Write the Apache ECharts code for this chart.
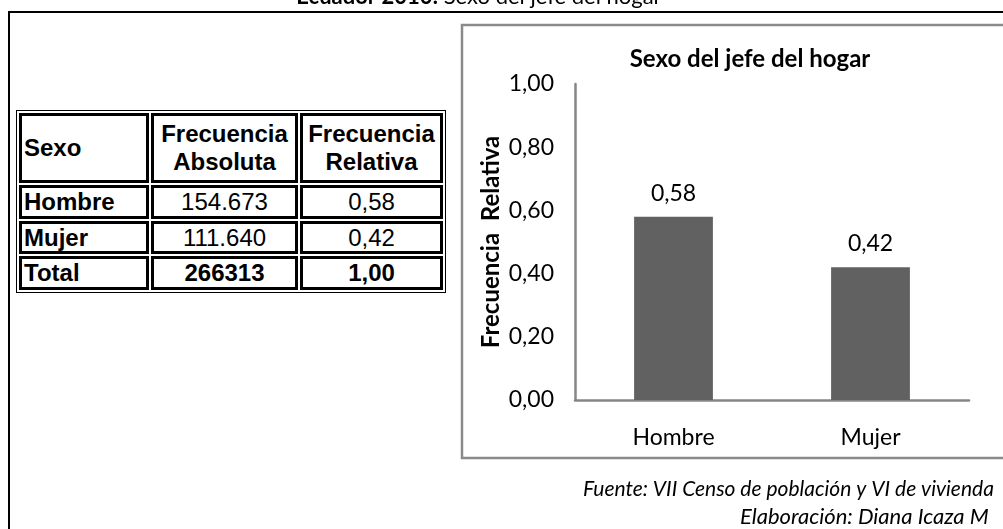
<!DOCTYPE html>
<html>
<head>
<meta charset="utf-8">
<script src="https://cdn.jsdelivr.net/npm/echarts@6/dist/echarts.min.js"></script>
<style>
  html, body { margin: 0; padding: 0; background: #fff; overflow: hidden; }
  #chart-container { position: absolute; left: 0; top: 0; width: 1003px; height: 529px; }
  #tabla {
    position: absolute; left: 16px; top: 110px; z-index: 2;
    border: 1px solid #000; border-spacing: 2px; background: #fff;
    font-family: 'Liberation Sans', Arial, sans-serif; font-size: 24px; color: #000;
  }
  #tabla td { border: 3px solid #000; box-sizing: border-box; padding: 0 2px; line-height: 1.15; }
  #tabla td.num { text-align: center; }
  #tabla td.b { font-weight: bold; }
</style>
</head>
<body>
<div id="chart-container"></div>
<table id="tabla"></table>
<script>
// datos
var categories = ['Hombre', 'Mujer'];
var relativa = [0.58, 0.42];
var absolutaTxt = ['154.673', '111.640'];
var relativaTxt = ['0,58', '0,42'];
var totalTxt = ['266313', '1,00'];
var headers = ['Sexo', 'Frecuencia<br>Absoluta', 'Frecuencia<br>Relativa'];

var fmt = (v) => v.toFixed(2).replace('.', ',');
var font = 'Lato, "Open Sans", sans-serif';

// tabla
var colW = [130, 147, 143];
var rowH = [70, 33, 33, 33];
var rows = [headers];
categories.forEach((c, i) => rows.push([c, absolutaTxt[i], relativaTxt[i]]));
rows.push(['Total', totalTxt[0], totalTxt[1]]);
var html = '';
rows.forEach((r, i) => {
  html += '<tr>';
  r.forEach((cell, j) => {
    var cls = [];
    if (j > 0) cls.push('num');
    if (i === 0 || j === 0 || i === rows.length - 1) cls.push('b');
    html += '<td class="' + cls.join(' ') + '" style="width:' + colW[j] + 'px;height:' + rowH[i] + 'px">' + cell + '</td>';
  });
  html += '</tr>';
});
document.getElementById('tabla').innerHTML = html;

var dom = document.getElementById('chart-container');
var myChart = echarts.init(dom, null, { renderer: 'canvas' });

var option = {
  animation: false,
  title: {
    text: 'Sexo del jefe del hogar',
    left: 745,
    top: 42,
    textAlign: 'center',
    textStyle: { fontFamily: font, fontSize: 24, fontWeight: 'bold', color: '#000' }
  },
  grid: { left: 575, right: 34, top: 84, bottom: 129, containLabel: false },
  xAxis: {
    type: 'category',
    data: categories,
    axisLine: { lineStyle: { color: '#868686', width: 2.5 } },
    axisTick: { show: false },
    axisLabel: { fontFamily: font, fontSize: 23, color: '#000', margin: 26 }
  },
  yAxis: {
    type: 'value',
    min: 0,
    max: 1,
    interval: 0.2,
    name: 'Frecuencia  Relativa',
    nameLocation: 'middle',
    nameGap: 72,
    nameTextStyle: { fontFamily: font, fontSize: 24, fontWeight: 'bold', color: '#000' },
    axisLine: { show: true, lineStyle: { color: '#868686', width: 2.5 } },
    axisTick: { show: false },
    splitLine: { show: false },
    axisLabel: { fontFamily: font, fontSize: 23, color: '#000', margin: 21, formatter: fmt }
  },
  series: [
    {
      type: 'bar',
      data: relativa,
      barWidth: '40%',
      itemStyle: { color: '#616161' },
      label: {
        show: true,
        position: 'top',
        distance: 12,
        fontFamily: font,
        fontSize: 23,
        color: '#000',
        formatter: (p) => fmt(p.value)
      }
    }
  ],
  graphic: [
    {
      type: 'rect',
      shape: { x: 9, y: 12, width: 1200, height: 700 },
      style: { fill: 'none', stroke: '#000', lineWidth: 2 }
    },
    {
      type: 'rect',
      shape: { x: 462, y: 25, width: 700, height: 433 },
      style: { fill: 'none', stroke: '#8a8a8a', lineWidth: 2.5 }
    },
    {
      type: 'text',
      x: 479,
      y: 8,
      style: {
        text: '{b|Ecuador 2010:} Sexo del jefe del hogar',
        align: 'center',
        verticalAlign: 'bottom',
        font: '22px ' + font,
        fill: '#000',
        rich: { b: { fontWeight: 'bold', fontSize: 22, fontFamily: font } }
      }
    },
    {
      type: 'text',
      x: 583,
      y: 489,
      style: {
        text: 'Fuente: VII Censo de población y VI de vivienda',
        verticalAlign: 'middle',
        font: 'italic 21px ' + font,
        fill: '#000'
      }
    },
    {
      type: 'text',
      x: 740,
      y: 517,
      style: {
        text: 'Elaboración: Diana Icaza M',
        verticalAlign: 'middle',
        font: 'italic 22px ' + font,
        fill: '#000'
      }
    }
  ]
};

myChart.setOption(option);
window.addEventListener('resize', myChart.resize);
</script>
</body>
</html>
